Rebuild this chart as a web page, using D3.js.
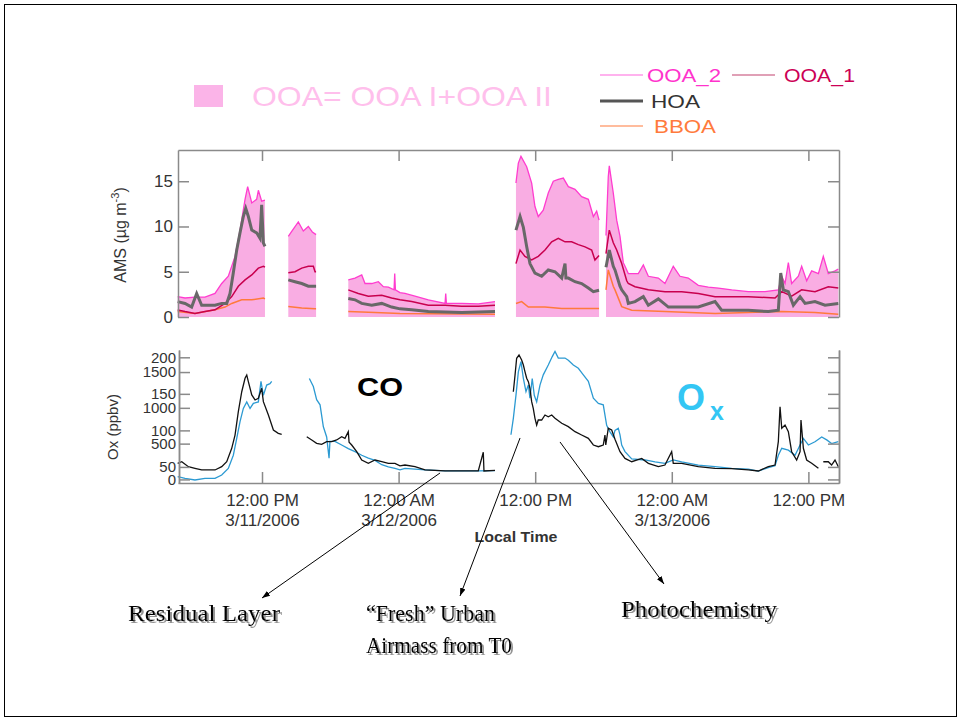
<!DOCTYPE html>
<html>
<head>
<meta charset="utf-8">
<script src="https://d3js.org/d3.v7.min.js"></script>
<style>
  body { margin: 0; background: #fff; }
  svg { display: block; font-family: "Liberation Sans", Arial, sans-serif; }
</style>
</head>
<body>
<svg width="961" height="721"></svg>
<script>
// [hours after 3/11/2006 00:00, value], value null = gap in the record
var ooaTotal = [
  [4.59,2.25],[5.24,2.1],[6.11,2.2],[6.99,2.2],[7.87,2.6],[8.46,3.7],[9.04,4.5],[9.63,6.7],[10.07,9.6],
  [10.51,13],[10.74,14.4],[11.10,12.6],[11.53,13],[11.68,14],[11.97,12.8],[12.26,12.9],[12.3,null],
  [14.31,8.9],[14.61,9.45],[15.19,10.5],[15.63,9.5],[16.07,10],[16.42,9.4],[16.75,9.1],[16.8,null],
  [19.58,4.1],[20.17,4.3],[20.76,4.65],[21.05,3.7],[21.64,3.7],[22.22,3.9],[22.66,3.35],[23.10,3.3],
  [23.60,3.0],[23.66,4.8],[23.72,3.0],[24.12,2.7],[24.56,2.6],[25.44,2.3],[26.61,1.9],[28.08,1.5],
  [28.14,2.6],[28.2,1.5],[29.54,1.5],[31.00,1.45],[32.47,1.7],[32.5,null],
  [34.31,14.8],[34.52,17.0],[34.75,17.75],[35.25,16.6],[35.69,14.8],[35.98,12.2],[36.27,11.1],[36.71,11.8],
  [37.15,13.7],[37.59,15.0],[38.03,15.2],[38.47,15.35],[38.91,14.4],[39.50,14.1],[40.08,13.3],[40.67,13],
  [41.11,11.1],[41.40,11.7],[41.61,10.7],[41.9,null],
  [42.22,9],[42.42,15.5],[42.51,16.7],[42.86,13.7],[43.16,10.7],[43.45,8.9],[43.74,6.0],[43.89,5.6],
  [44.18,4.8],[45.06,4.8],[45.50,5.75],[45.94,4.5],[46.82,4.3],[47.40,3.7],[48.13,5.6],[48.72,4.5],
  [49.45,4.3],[50.33,3.5],[51.21,3.3],[52.09,3.2],[53.26,3.0],[54.72,2.8],[56.19,2.8],[57.36,3.0],
  [57.66,4.5],[57.95,3.7],[58.24,6.0],[58.53,3.7],[59.12,4.5],[59.41,5.6],[59.85,4.0],[60.29,5.1],
  [60.88,4.8],[61.31,6.7],[61.75,4.8],[62.34,5.1],[62.63,5.3]
];
var ooa1 = [
  [4.59,0.77],[5.24,0.6],[6.11,0.4],[6.99,0.6],[7.87,0.8],[8.75,1.5],[9.34,2.25],[9.92,3.4],[10.51,4.1],
  [11.10,4.65],[11.68,5.4],[12.12,5.6],[12.26,5.5],[12.3,null],
  [14.31,4.9],[14.90,5.0],[15.49,5.4],[16.07,5.6],[16.51,5.6],[16.66,5.0],[16.75,5.0],[16.8,null],
  [19.58,3.0],[20.46,2.6],[21.34,2.3],[22.52,2.4],[23.39,2.1],[24.12,1.9],[25.15,1.7],[26.61,1.3],
  [28.08,1.3],[29.54,1.2],[31.00,1.2],[32.47,1.3],[32.5,null],
  [34.31,5.9],[34.67,7.4],[35.10,6.7],[35.69,6.3],[36.27,6.7],[36.86,7.4],[37.45,8.3],[38.03,8.7],
  [38.62,8.3],[39.20,8.3],[39.79,8.0],[40.38,7.75],[40.96,7.4],[41.25,6.3],[41.61,6.8],[41.9,null],
  [42.22,7],[42.51,9.6],[42.86,8.2],[43.16,7.4],[43.60,5.9],[44.04,4.0],[44.18,3.7],[44.77,3.35],
  [45.94,3.0],[47.40,2.8],[48.87,2.8],[50.33,2.6],[51.80,2.25],[54.72,2.25],[57.07,2.1],[57.66,2.8],
  [58.53,2.3],[59.41,3.0],[60.58,2.8],[61.75,3.35],[62.63,3.2]
];
var hoa = [
  [4.59,1.7],[5.24,1.5],[5.82,1.1],[6.26,2.6],[6.70,1.3],[7.28,1.3],[7.87,1.3],[8.46,1.5],[8.90,1.5],
  [9.19,2.6],[9.48,4.9],[9.78,7.4],[10.07,9.3],[10.36,11.1],[10.57,12],[10.80,11.1],[11.10,9.6],
  [11.53,9.3],[11.82,8.7],[11.97,12.4],[12.12,8.2],[12.26,7.8],[12.3,null],
  [14.31,4.1],[14.90,3.9],[15.49,3.7],[16.07,3.4],[16.66,3.4],[16.75,3.4],[16.8,null],
  [19.58,2.05],[20.17,1.9],[20.76,1.5],[21.64,1.3],[22.52,1.5],[23.39,1.1],[24.12,0.9],[25.15,0.8],
  [26.61,0.6],[29.54,0.5],[32.47,0.6],[32.5,null],
  [34.31,9.6],[34.67,11.1],[34.96,9.9],[35.25,7.8],[35.54,5.9],[35.98,4.85],[36.57,4.5],[37.15,5.2],
  [37.74,5.0],[38.33,4.3],[38.62,5.9],[38.70,4.3],[38.91,4.3],[39.50,3.9],[40.08,3.7],[40.67,3.2],
  [41.11,2.8],[41.61,2.95],[41.9,null],
  [42.22,5.5],[42.51,7.4],[42.86,5.6],[43.01,5.2],[43.45,3.4],[43.60,3.0],[44.04,2.25],[44.18,1.5],
  [44.77,1.7],[45.50,2.25],[45.94,1.3],[46.82,2.0],[47.70,1.1],[48.87,1.1],[50.33,1.1],[51.80,1.7],
  [52.38,0.75],[54.72,0.75],[56.48,0.6],[57.36,0.75],[57.57,4.85],[57.80,3.0],[58.24,2.8],[58.68,1.3],
  [59.27,2.25],[59.71,1.5],[60.58,1.7],[61.46,1.3],[62.63,1.5]
];
var bboa = [
  [4.59,0.6],[6.11,0.4],[7.87,0.8],[8.75,1.1],[9.34,1.5],[10.22,1.9],[11.10,1.9],[12.12,2.1],[12.26,2.0],[12.3,null],
  [14.31,1.15],[15.49,1.0],[16.66,0.9],[16.75,0.9],[16.8,null],
  [19.58,0.6],[21.93,0.5],[24.12,0.4],[32.47,0.3],[32.5,null],
  [34.31,1.5],[34.81,1.7],[35.40,1.1],[36.86,1.1],[38.33,0.95],[39.79,0.95],[41.61,0.95],[41.9,null],
  [42.22,3.0],[42.42,5.2],[42.86,3.4],[43.01,3.0],[43.60,1.15],[44.48,0.75],[47.40,0.6],[51.80,0.4],
  [57.66,0.6],[60.58,0.5],[62.63,0.3]
];
// CO (ppbv, black) and Ox (ppbv, blue)
var coPpb = [
  [4.59,225],[4.95,247],[5.53,178],[6.11,155],[6.70,132],[7.28,132],[7.87,132],[8.46,178],[8.90,247],
  [9.34,435],[9.63,620],[9.92,946],[10.22,1225],[10.51,1413],[10.66,1459],[10.80,1365],[11.10,1180],
  [11.39,1110],[11.68,1133],[11.97,1273],[12.12,1086],[12.56,900],[13.00,690],[13.43,644],[13.73,630],[14,null],
  [15.93,597],[16.37,551],[16.80,505],[17.24,491],[17.68,527],[18.12,527],[18.56,551],[19.00,597],
  [19.29,574],[19.58,667],[19.65,520],[19.88,481],[20.32,387],[20.76,271],[21.34,225],[21.93,271],
  [22.52,247],[23.10,225],[23.68,225],[24.12,190],[24.56,201],[25.44,178],[26.32,132],[28.08,118],
  [29.54,118],[31.00,118],[31.44,379],[31.50,118],[32.47,125],[33,null],
  [34.08,1225],[34.23,1459],[34.37,1692],[34.58,1738],[34.81,1668],[34.96,1598],[35.10,1505],[35.25,1413],
  [35.40,1365],[35.54,1273],[35.69,1086],[35.83,994],[35.98,854],[36.13,760],[36.27,830],[36.57,830],
  [36.86,900],[37.15,876],[37.45,900],[37.74,854],[38.33,784],[38.91,737],[39.50,667],[40.08,620],
  [40.67,574],[41.11,481],[41.55,457],[41.98,481],[42.13,620],[42.20,481],[42.42,714],[42.72,690],
  [43.01,560],[43.45,387],[43.89,294],[44.48,247],[45.36,294],[45.94,225],[46.82,178],[47.40,201],
  [47.99,387],[48.13,225],[48.87,225],[50.33,178],[51.80,155],[53.26,150],[54.72,132],[55.60,118],
  [56.48,178],[57.07,201],[57.36,527],[57.51,1016],[57.66,714],[57.95,760],[58.24,667],[58.53,387],
  [58.97,271],[59.27,387],[59.35,830],[59.56,435],[59.85,271],[60.29,225],[60.88,155],[61.1,null],
  [61.31,247],[61.75,247],[62.04,201],[62.34,271],[62.63,178]
];
var oxPpb = [
  [4.59,36.6],[5.24,34.4],[6.11,32.1],[6.99,34.4],[7.87,34.4],[8.46,39],[9.04,48],[9.48,66],[9.78,89],
  [10.07,112],[10.36,130],[10.66,139],[10.95,130],[11.24,137],[11.68,139],[11.91,167],[12.12,148],
  [12.41,162],[12.70,164],[12.85,167],[13,null],
  [16.16,171],[16.51,160],[16.80,142],[17.10,135],[17.39,105],[17.68,91],[17.89,62],[17.97,85],
  [18.41,85],[19.00,80],[19.58,75],[20.17,71],[20.76,66],[21.34,62],[21.93,59],[22.52,53],[23.10,50],
  [23.68,48],[24.12,46],[24.56,48],[25.44,47],[26.32,46],[28.08,44.5],[29.54,44.5],[31.00,44.5],[32.47,45],[33,null],
  [33.87,94],[34.08,116.5],[34.31,148],[34.52,180],[34.75,194],[34.96,171],[35.19,153],[35.40,162],
  [35.54,144],[35.74,171],[35.92,148],[36.13,139],[36.42,162],[36.71,176],[37.15,189.5],[37.50,201],
  [37.74,208],[38.03,199],[38.62,199],[38.91,196],[39.35,189.5],[39.79,185],[40.23,176],[40.67,167],
  [41.11,144],[41.55,137],[41.98,135],[42.28,107],[42.57,98],[42.86,91],[43.01,100],[43.30,103],
  [43.45,94],[43.60,80],[43.89,71],[44.48,61],[45.65,59.5],[46.53,57],[47.40,55],[48.13,59.5],
  [48.87,57],[50.33,52.6],[51.80,50.3],[53.26,48],[54.72,47],[55.60,44.4],[56.48,49],[57.07,51.7],
  [57.36,66],[57.66,75.5],[58.24,73],[58.83,66],[59.27,80],[59.56,89],[60.00,80],[60.58,84.5],
  [61.17,91],[61.61,87],[62.04,82],[62.63,84.5]
];
var amsTicks = [0, 5, 10, 15];
var coTicks = [0, 500, 1000, 1500];
var oxTicks = [50, 100, 150, 200];

var start = new Date(2006, 2, 11);
function toDate(h) { return new Date(start.getTime() + h * 3600000); }

var svg = d3.select('svg');

// slide frame
svg.append('rect').attr('x', 4.5).attr('y', 4.5).attr('width', 952).attr('height', 712)
  .attr('fill', 'none').attr('stroke', '#000').attr('stroke-width', 1);

var x = d3.scaleTime().domain([toDate(4.62), toDate(62.69)]).range([178, 839]);
var yAms = d3.scaleLinear().domain([0, 18.45]).range([317, 150]);
var yCO = d3.scaleLinear().domain([-50, 1808]).range([483, 350]);
var yOx = d3.scaleLinear().domain([28, 210]).range([483, 350]);

function lineFor(y) {
  return d3.line()
    .defined(function(d) { return d[1] != null; })
    .x(function(d) { return x(toDate(d[0])); })
    .y(function(d) { return y(d[1]); });
}

// ---- AMS panel
var area = d3.area()
  .defined(function(d) { return d[1] != null; })
  .x(function(d) { return x(toDate(d[0])); })
  .y0(yAms(0))
  .y1(function(d) { return yAms(d[1]); });

svg.append('path').attr('d', area(ooaTotal)).attr('fill', '#f9ade3');
svg.append('path').attr('d', lineFor(yAms)(ooaTotal)).attr('fill', 'none').attr('stroke', '#ff3ccf').attr('stroke-width', 1.3);
svg.append('path').attr('d', lineFor(yAms)(bboa)).attr('fill', 'none').attr('stroke', '#ff7a3c').attr('stroke-width', 1.5);
svg.append('path').attr('d', lineFor(yAms)(ooa1)).attr('fill', 'none').attr('stroke', '#c8004e').attr('stroke-width', 1.5);
svg.append('path').attr('d', lineFor(yAms)(hoa)).attr('fill', 'none').attr('stroke', '#686868').attr('stroke-width', 3);

// ---- CO / Ox panel
svg.append('path').attr('d', lineFor(yOx)(oxPpb)).attr('fill', 'none').attr('stroke', '#2c9ad2').attr('stroke-width', 1.3);
svg.append('path').attr('d', lineFor(yCO)(coPpb)).attr('fill', 'none').attr('stroke', '#111').attr('stroke-width', 1.3);

// ---- axes
function styleAxis(g, size) {
  g.attr('font-family', null).attr('font-size', size);
  g.selectAll('path, line').attr('stroke', '#8a8a8a').attr('stroke-width', 1.5);
  g.selectAll('text').attr('fill', '#333');
}
var every12 = d3.timeHour.every(12);
var plain = d3.format('d');

svg.append('g').attr('transform', 'translate(0,150)')
  .call(d3.axisTop(x).ticks(every12).tickSize(-11).tickSizeOuter(0).tickFormat(''))
  .call(styleAxis, 17);
svg.append('g').attr('transform', 'translate(178,0)')
  .call(d3.axisLeft(yAms).tickValues(amsTicks).tickSize(-11).tickSizeOuter(0).tickPadding(5))
  .call(styleAxis, 17);
svg.append('g').attr('transform', 'translate(839,0)')
  .call(d3.axisRight(yAms).tickValues(amsTicks).tickSize(-11).tickSizeOuter(0).tickFormat(''))
  .call(styleAxis, 17);

svg.append('g').attr('transform', 'translate(179,0)')
  .call(d3.axisLeft(yCO).tickValues(coTicks).tickSize(-11).tickSizeOuter(0).tickPadding(3).tickFormat(plain))
  .call(styleAxis, 15);
svg.append('g').attr('transform', 'translate(179,0)')
  .call(d3.axisLeft(yOx).tickValues(oxTicks).tickSize(-11).tickSizeOuter(0).tickPadding(3).tickFormat(plain))
  .call(styleAxis, 15);
svg.append('g').attr('transform', 'translate(839,0)')
  .call(d3.axisRight(yCO).tickValues(coTicks).tickSize(-11).tickSizeOuter(0).tickFormat(''))
  .call(styleAxis, 15);
svg.append('g').attr('transform', 'translate(839,0)')
  .call(d3.axisRight(yOx).tickValues(oxTicks).tickSize(-11).tickSizeOuter(0).tickFormat(''))
  .call(styleAxis, 15);

var fmtTime = d3.timeFormat('%I:%M %p');
var fmtDate = d3.timeFormat('%-m/%-d/%Y');
var xAxisG = svg.append('g').attr('transform', 'translate(0,483)')
  .call(d3.axisBottom(x).ticks(every12).tickSize(-11).tickSizeOuter(0).tickPadding(11).tickFormat(fmtTime))
  .call(styleAxis, 17);
xAxisG.selectAll('.tick').each(function(d, i) {
  if (i === 0 || d.getHours() === 0) {
    d3.select(this).append('text').attr('y', 31).attr('dy', '0.71em')
      .attr('fill', '#333').text(fmtDate(d));
  }
});

svg.append('text').attr('x', 516).attr('y', 542).attr('text-anchor', 'middle')
  .attr('font-size', 15).attr('font-weight', 'bold').attr('fill', '#333')
  .attr('textLength', 83).attr('lengthAdjust', 'spacingAndGlyphs').text('Local Time');

svg.append('text').attr('transform', 'translate(126,235) rotate(-90)').attr('text-anchor', 'middle')
  .attr('font-size', 16).attr('fill', '#333')
  .call(function(t) {
    t.append('tspan').text('AMS (\u00b5g m');
    t.append('tspan').attr('font-size', 11).attr('dy', -7).text('-3');
    t.append('tspan').attr('dy', 7).text(')');
  });
svg.append('text').attr('transform', 'translate(118,427) rotate(-90)').attr('text-anchor', 'middle')
  .attr('font-size', 15).attr('fill', '#333').text('Ox (ppbv)');

svg.append('text').attr('x', 357).attr('y', 396).attr('font-size', 26).attr('font-weight', 'bold')
  .attr('textLength', 46).attr('lengthAdjust', 'spacingAndGlyphs').text('CO');
var oxLabel = svg.append('text').attr('x', 677).attr('y', 410).attr('fill', '#33c6f4').attr('font-weight', 'bold');
oxLabel.append('tspan').attr('font-size', 36).text('O');
oxLabel.append('tspan').attr('font-size', 25).attr('dx', 5).attr('dy', 10).text('x');

// ---- legend
svg.append('rect').attr('x', 194).attr('y', 85).attr('width', 29).attr('height', 22).attr('fill', '#fbb4e8');
svg.append('text').attr('x', 252).attr('y', 106).attr('font-size', 28).attr('fill', '#ffbfec')
  .attr('textLength', 300).attr('lengthAdjust', 'spacingAndGlyphs').text('OOA= OOA I+OOA II');

var legendRows = [
  { x: 600, y: 75, color: '#ff66dd', text: 'OOA_2', tx: 647, tcolor: '#ff33cc', w: 1.2, len: 74 },
  { x: 732, y: 75, color: '#c2426f', text: 'OOA_1', tx: 784, tcolor: '#cc0055', w: 1.2, len: 71 },
  { x: 600, y: 101, color: '#555', text: 'HOA', tx: 651, tcolor: '#333', w: 3, len: 49 },
  { x: 600, y: 126, color: '#ff7a3c', text: 'BBOA', tx: 654, tcolor: '#ff7a3c', w: 1.2, len: 62 }
];
legendRows.forEach(function(r) {
  svg.append('line').attr('x1', r.x).attr('x2', r.x + 43).attr('y1', r.y).attr('y2', r.y)
    .attr('stroke', r.color).attr('stroke-width', r.w);
  svg.append('text').attr('x', r.tx).attr('y', r.y + 7).attr('font-size', 18).attr('fill', r.tcolor)
    .attr('textLength', r.len).attr('lengthAdjust', 'spacingAndGlyphs').text(r.text);
});

// ---- annotations
var defs = svg.append('defs');
defs.append('marker').attr('id', 'arrow').attr('viewBox', '0 0 10 10').attr('refX', 10).attr('refY', 5)
  .attr('markerWidth', 8).attr('markerHeight', 8).attr('orient', 'auto')
  .append('path').attr('d', 'M0,1.5L10,5L0,8.5z').attr('fill', '#000');
defs.append('filter').attr('id', 'shadow').attr('x', '-5%').attr('y', '-20%').attr('width', '115%').attr('height', '160%')
  .append('feDropShadow').attr('dx', 2).attr('dy', 2).attr('stdDeviation', 0.6)
  .attr('flood-color', '#888').attr('flood-opacity', 0.9);

var notes = [
  { hour: 27.64, co: 90, to: [262, 598] },
  { hour: 34.67, co: 579, to: [460, 596] },
  { hour: 38.18, co: 523, to: [664, 584] }
];
notes.forEach(function(n) {
  svg.append('line').attr('x1', x(toDate(n.hour))).attr('y1', yCO(n.co))
    .attr('x2', n.to[0]).attr('y2', n.to[1])
    .attr('stroke', '#000').attr('stroke-width', 1).attr('marker-end', 'url(#arrow)');
});

var captions = [
  { x: 128, y: 621, text: 'Residual Layer', len: 152 },
  { x: 366, y: 621, text: '\u201cFresh\u201d Urban', len: 129 },
  { x: 366, y: 653, text: 'Airmass from T0', len: 146 },
  { x: 621, y: 617, text: 'Photochemistry', len: 156 }
];
captions.forEach(function(c) {
  svg.append('text').attr('x', c.x).attr('y', c.y)
    .attr('font-family', '"Liberation Serif", "Times New Roman", serif').attr('font-size', 23)
    .attr('fill', '#000').attr('filter', 'url(#shadow)')
    .attr('textLength', c.len).attr('lengthAdjust', 'spacingAndGlyphs').text(c.text);
});
</script>
</body>
</html>
